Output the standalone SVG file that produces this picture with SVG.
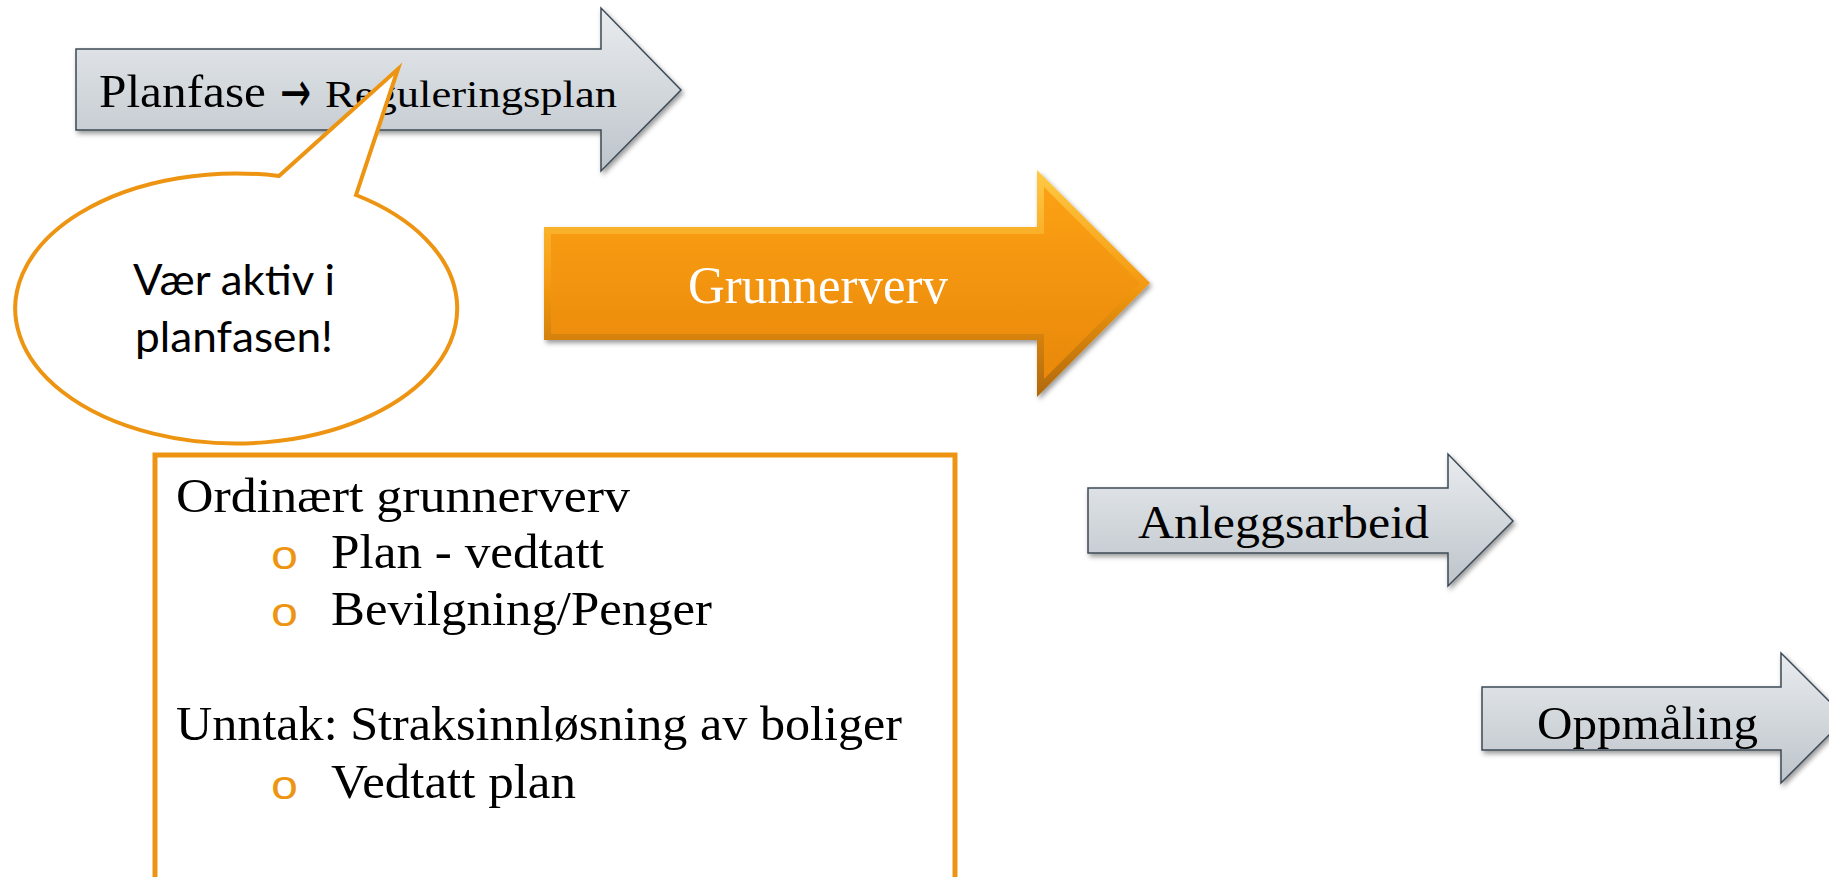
<svg xmlns="http://www.w3.org/2000/svg" width="1829" height="877" viewBox="0 0 1829 877">
<defs>
<linearGradient id="gGray" x1="0" y1="0" x2="0" y2="1">
<stop offset="0" stop-color="#E9ECEF"/>
<stop offset="1" stop-color="#BDC4CA"/>
</linearGradient>
<linearGradient id="gOrOuter" x1="0" y1="0" x2="0" y2="1">
<stop offset="0" stop-color="#FFCB45"/>
<stop offset="0.5" stop-color="#F59A12"/>
<stop offset="1" stop-color="#B06806"/>
</linearGradient>
<linearGradient id="gOrInner" x1="0" y1="0" x2="0" y2="1">
<stop offset="0" stop-color="#FCA114"/>
<stop offset="1" stop-color="#E9880A"/>
</linearGradient>
<filter id="shadow" x="-10%" y="-10%" width="130%" height="140%">
<feDropShadow dx="2" dy="3" stdDeviation="2.5" flood-color="#000" flood-opacity="0.4"/>
</filter>
<style>
.gray{fill:url(#gGray);stroke:#3C4A56;stroke-width:1.5;stroke-linejoin:miter}
.serif{font-family:"Liberation Serif","Times New Roman",serif;fill:#000}
.sans{font-family:Lato,"Liberation Sans",sans-serif;fill:#000}
.bullet{font-family:"Liberation Mono","Courier New",monospace;fill:#ED9512;font-size:40px}
.orline{fill:#fff;stroke:#ED9512}
</style>
</defs>

<g id="node-planfase">
<polygon class="gray" filter="url(#shadow)" points="76,49 601,49 601,8 681,90 601,171 601,130 76,130"/>
<text class="serif" x="99" y="107" font-size="47" textLength="167" lengthAdjust="spacingAndGlyphs">Planfase</text>
<text x="280" y="112" font-family="DejaVu Sans, sans-serif" font-size="58" textLength="31" lengthAdjust="spacingAndGlyphs" fill="#000">→</text>
<text class="serif" x="325" y="107" font-size="38" textLength="292" lengthAdjust="spacingAndGlyphs">Reguleringsplan</text>
</g>

<g id="node-callout">
<path class="orline" stroke-width="4" stroke-linejoin="miter" d="M279,176 L398,69 L356,195 A221,135 0 1 1 279,176 Z"/>
<text class="sans" x="133" y="295" font-size="42" textLength="202" lengthAdjust="spacingAndGlyphs">Vær aktiv i</text>
<text class="sans" x="135" y="352" font-size="42" textLength="198" lengthAdjust="spacingAndGlyphs">planfasen!</text>
</g>

<g id="node-grunnerverv">
<polygon fill="url(#gOrOuter)" filter="url(#shadow)" points="544,227 1037,227 1037,170 1150,283 1037,397 1037,340 544,340"/>
<polygon fill="url(#gOrInner)" points="551,234 1044,234 1044,187 1140,283 1044,379 1044,334 551,334"/>
<text x="688" y="303" font-family="Liberation Serif, serif" font-size="52" fill="#fff" textLength="260" lengthAdjust="spacingAndGlyphs">Grunnerverv</text>
</g>

<g id="node-textbox">
<rect class="orline" x="155" y="455" width="800" height="440" stroke-width="5"/>
<text class="serif" x="176" y="512" font-size="48" textLength="454" lengthAdjust="spacingAndGlyphs">Ordinært grunnerverv</text>
<text class="bullet" x="270" y="569" textLength="29" lengthAdjust="spacingAndGlyphs">o</text>
<text class="serif" x="331" y="568" font-size="48" textLength="273" lengthAdjust="spacingAndGlyphs">Plan - vedtatt</text>
<text class="bullet" x="270" y="626" textLength="29" lengthAdjust="spacingAndGlyphs">o</text>
<text class="serif" x="331" y="625" font-size="48" textLength="381" lengthAdjust="spacingAndGlyphs">Bevilgning/Penger</text>
<text class="serif" x="176" y="740" font-size="48" textLength="726" lengthAdjust="spacingAndGlyphs">Unntak: Straksinnløsning av boliger</text>
<text class="bullet" x="270" y="799" textLength="29" lengthAdjust="spacingAndGlyphs">o</text>
<text class="serif" x="331" y="798" font-size="48" textLength="245" lengthAdjust="spacingAndGlyphs">Vedtatt plan</text>
</g>

<g id="node-anlegg">
<polygon class="gray" filter="url(#shadow)" points="1088,488 1448,488 1448,454 1513,521 1448,586 1448,553 1088,553"/>
<text class="serif" x="1138" y="538" font-size="46" textLength="291" lengthAdjust="spacingAndGlyphs">Anleggsarbeid</text>
</g>

<g id="node-oppmaling">
<polygon class="gray" filter="url(#shadow)" points="1482,687 1781,687 1781,653 1846,718 1781,783 1781,750 1482,750"/>
<text class="serif" x="1537" y="739" font-size="47" textLength="221" lengthAdjust="spacingAndGlyphs">Oppmåling</text>
</g>

<g id="connectors"/>
</svg>
